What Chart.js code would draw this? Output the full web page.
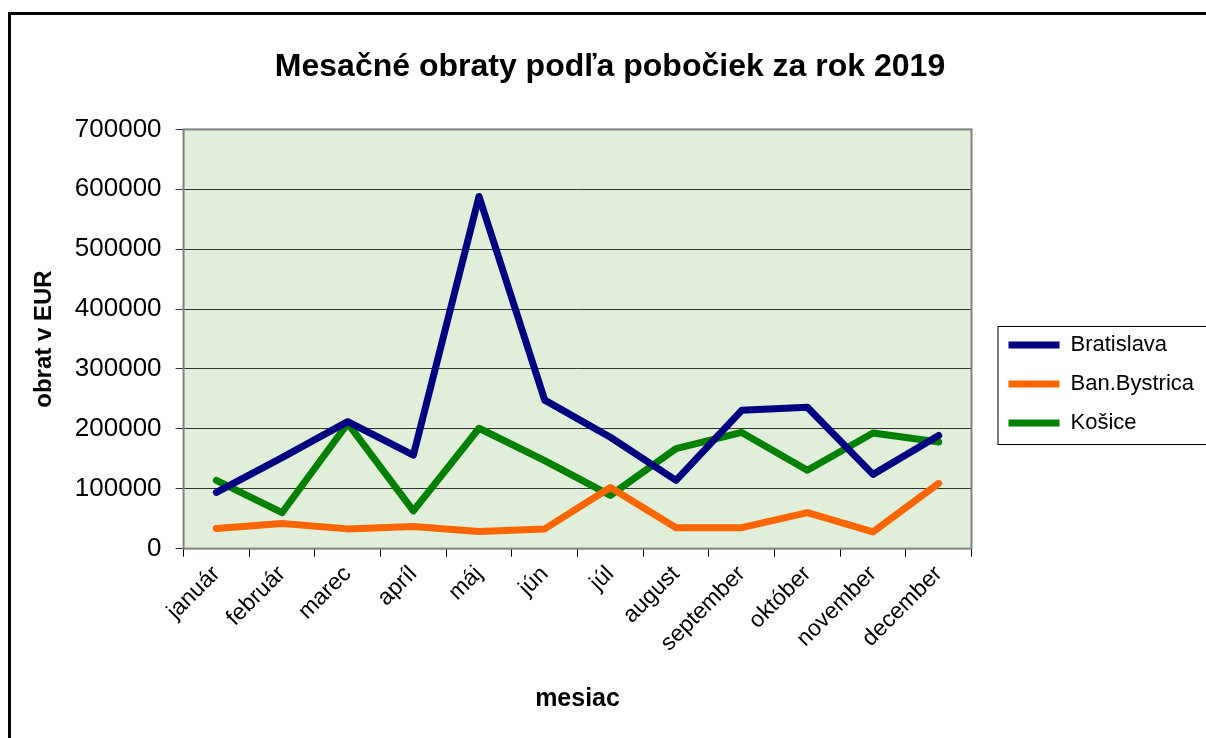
<!DOCTYPE html>
<html>
<head>
<meta charset="utf-8">
<script src="https://cdn.jsdelivr.net/npm/chart.js@4/dist/chart.umd.min.js"></script>
<style>
  html, body { margin: 0; padding: 0; background: #fff; overflow: hidden; }
  #wrap { position: relative; width: 1206px; height: 738px; }
  #frame { position: absolute; left: 8px; top: 12px; width: 1300px; height: 800px;
           border-top: 3px solid #000; border-left: 3px solid #000; }
  canvas { position: absolute; left: 0; top: 0; }
</style>
</head>
<body>
<div id="wrap">
  <div id="frame"></div>
  <canvas id="myChart" width="1206" height="738"></canvas>
</div>
<script>
  "use strict";

  var months = ["január", "február", "marec", "apríl", "máj", "jún", "júl",
    "august", "september", "október", "november", "december"];
  var bratislava = [94000, 152000, 212000, 156000, 588000, 248000, 186000,
    114000, 231000, 236000, 124000, 189000];
  var banBystrica = [33500, 42000, 33000, 37000, 28500, 33000, 102000,
    35000, 35000, 60000, 28000, 109000];
  var kosice = [114000, 60000, 209000, 63000, 201000, 147000, 89000,
    167000, 194000, 131000, 193000, 178000];
  var yTicks = [0, 100000, 200000, 300000, 400000, 500000, 600000, 700000];

  var FONT = "'Liberation Sans', Arial, sans-serif";

  // green plot background + grey frame round the plot
  var plotArea = {
    id: "plotArea",
    beforeDraw: function (chart) {
      var a = chart.chartArea, c = chart.ctx;
      c.save();
      c.fillStyle = "#e1eed9";
      c.fillRect(a.left, a.top, a.right - a.left, a.bottom - a.top);
      c.restore();
    },
    beforeDatasetsDraw: function (chart) {
      var a = chart.chartArea, c = chart.ctx;
      c.save();
      c.strokeStyle = "#808080";
      c.lineWidth = 2;
      c.strokeRect(a.left, a.top, a.right - a.left, a.bottom - a.top);
      c.restore();
    }
  };

  // move legend (and title a bit) and draw a box round the legend
  var legendBox = {
    id: "legendBox",
    afterLayout: function (chart) {
      var lg = chart.legend;
      lg.left += 20; lg.right += 20;
      lg.top += 27; lg.bottom += 27;
      if (chart.titleBlock) {
        chart.titleBlock.left += 9;
        chart.titleBlock.right += 9;
      }
    },
    afterDraw: function (chart) {
      var lg = chart.legend, hb = lg.legendHitBoxes;
      if (!hb || !hb.length) return;
      var c = chart.ctx;
      var first = hb[0], last = hb[hb.length - 1];
      var top = first.top + first.height / 2 - 19;
      var bottom = last.top + last.height / 2 + 21;
      var left = first.left - 11;
      c.save();
      c.strokeStyle = "#000";
      c.lineWidth = 1;
      c.strokeRect(left + 0.5, top + 0.5, chart.width + 10 - left, bottom - top);
      c.restore();
    }
  };

  function series(label, values, colour) {
    return {
      label: label,
      data: values,
      borderColor: colour,
      backgroundColor: colour,
      borderWidth: 7,
      borderCapStyle: "round",
      borderJoinStyle: "round",
      pointRadius: 0,
      tension: 0,
      fill: false
    };
  }

  var ctx = document.getElementById("myChart").getContext("2d");
  var chart1 = new Chart(ctx, {
    type: "line",
    data: {
      labels: months,
      datasets: [
        series("Bratislava", bratislava, "#000080"),
        series("Ban.Bystrica", banBystrica, "#ff6600"),
        series("Košice", kosice, "#008000")
      ]
    },
    options: {
      responsive: false,
      animation: false,
      devicePixelRatio: 1,
      layout: { padding: { left: 18, right: 22, top: 0, bottom: 24 } },
      plugins: {
        title: {
          display: true,
          text: "Mesačné obraty podľa pobočiek za rok 2019",
          color: "#000",
          font: { family: FONT, size: 32, weight: "bold" },
          padding: { top: 48, bottom: 43 }
        },
        legend: {
          display: true,
          position: "right",
          labels: {
            usePointStyle: true,
            pointStyle: "line",
            pointStyleWidth: 51,
            padding: 17,
            color: "#000",
            font: { family: FONT, size: 22 }
          }
        },
        tooltip: { enabled: false }
      },
      scales: {
        x: {
          offset: true,
          grid: {
            offset: true,
            drawOnChartArea: false,
            drawTicks: true,
            tickLength: 8,
            color: "#000"
          },
          border: { display: false },
          ticks: {
            color: "#000",
            minRotation: 45,
            maxRotation: 45,
            padding: 4,
            font: { family: FONT, size: 23 }
          },
          title: {
            display: true,
            text: "mesiac",
            color: "#000",
            font: { family: FONT, size: 25, weight: "bold" },
            padding: { top: 23, bottom: 0 }
          }
        },
        y: {
          min: 0,
          max: 700000,
          afterBuildTicks: function (axis) {
            axis.ticks = yTicks.map(function (v) { return { value: v }; });
          },
          grid: {
            color: "#333",
            lineWidth: 1,
            drawTicks: true,
            tickLength: 8
          },
          border: { display: false },
          ticks: {
            color: "#000",
            padding: 14,
            font: { family: FONT, size: 26 },
            callback: function (v) { return String(v); }
          },
          title: {
            display: true,
            text: "obrat v EUR",
            color: "#000",
            font: { family: FONT, size: 24, weight: "bold" },
            padding: { top: 12, bottom: 2 }
          }
        }
      }
    },
    plugins: [plotArea, legendBox]
  });
</script>
</body>
</html>
